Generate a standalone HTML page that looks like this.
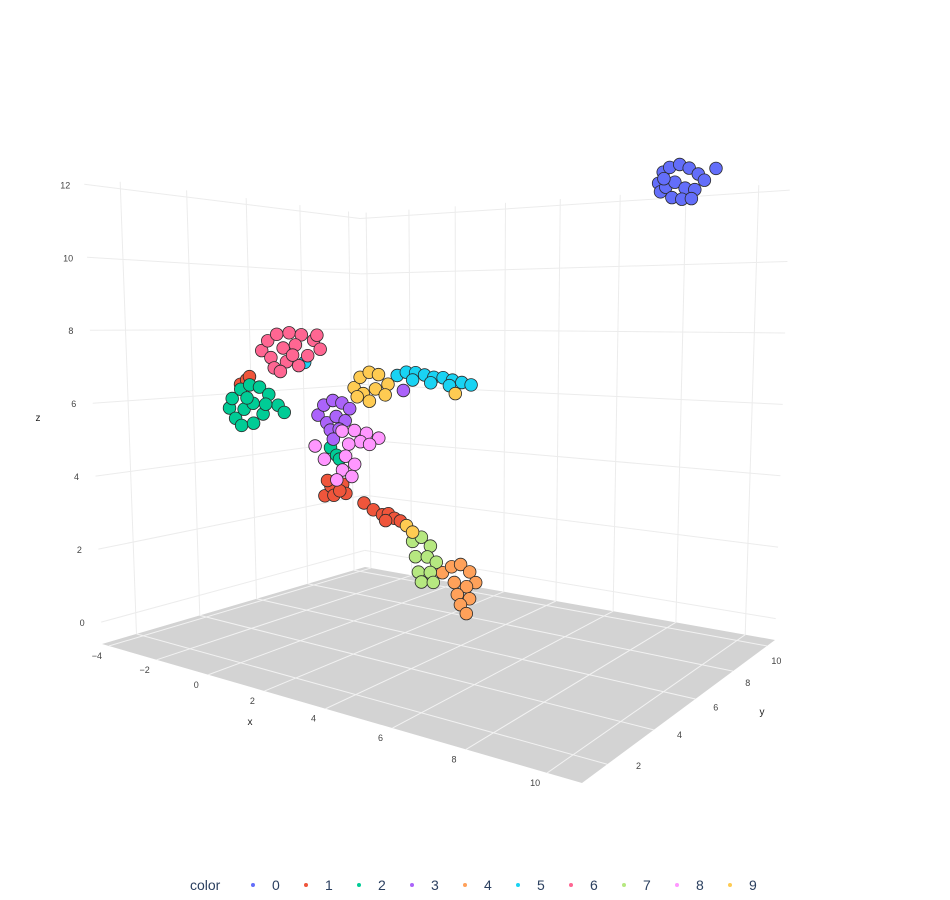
<!DOCTYPE html>
<html><head><meta charset="utf-8"><style>
body{margin:0;background:#fff;}
svg{display:block;font-family:"Liberation Sans",sans-serif;}
</style></head><body>
<svg id="chart" width="950" height="900" viewBox="0 0 950 900" xmlns="http://www.w3.org/2000/svg">
<g id="scene"></g>
<g id="legend"></g>
</svg>
<script>
const xTicks=[-4,-2,0,2,4,6,8,10];
const yTicks=[2,4,6,8,10];
const zTicks=[0,2,4,6,8,10,12];
const categories=["0","1","2","3","4","5","6","7","8","9"];
const colors=["#636efa","#EF553B","#00cc96","#ab63fa","#FFA15A","#19d3f3","#FF6692","#B6E880","#FF97FF","#FECB52"];
const pts0=[[10.1,4.9,11.6],[10.2,4.9,11.85],[10.35,4.9,11.95],[10.58,4.9,12.0],[10.8,4.9,11.9],[11.01,4.9,11.75],[11.15,4.9,11.6],[10.15,4.9,11.4],[10.27,4.9,11.5],[10.48,4.9,11.6],[10.72,4.9,11.45],[10.94,4.9,11.4],[10.42,4.9,11.25],[10.65,4.9,11.2],[10.87,4.9,11.2],[10.22,4.9,11.7],[11.4,4.9,11.85]];
const pts1=[[-3.36,4.9,6.35],[-3.09,4.9,6.5],[-2.96,4.9,6.6],[0.06,4.9,3.3],[0.3,4.9,3.6],[0.53,4.9,3.8],[0.75,4.9,3.7],[0.87,4.9,3.45],[0.41,4.9,3.35],[0.64,4.9,3.5],[0.17,4.9,3.75],[1.54,4.9,3.25],[1.88,4.9,3.1],[2.21,4.9,3.0],[2.42,4.9,3.05],[2.63,4.9,2.95],[2.84,4.9,2.9],[2.32,4.9,2.85]];
const pts2=[[-3.88,4.9,5.6],[-3.75,4.9,5.9],[-3.36,4.9,6.2],[-2.96,4.9,6.35],[-2.54,4.9,6.3],[-2.15,4.9,6.1],[-1.77,4.9,5.8],[-3.62,4.9,5.3],[-3.23,4.9,5.6],[-2.83,4.9,5.8],[-2.41,4.9,5.5],[-3.36,4.9,5.1],[-2.83,4.9,5.2],[-2.29,4.9,5.8],[-1.52,4.9,5.6],[-3.09,4.9,5.95],[0.3,4.9,4.7],[0.53,4.9,4.5],[0.64,4.9,4.4]];
const pts3=[[-0.17,4.9,5.6],[0.06,4.9,5.9],[0.41,4.9,6.05],[0.75,4.9,6.0],[1.04,4.9,5.85],[0.17,4.9,5.4],[0.53,4.9,5.6],[0.87,4.9,5.5],[0.3,4.9,5.2],[0.64,4.9,5.25],[0.41,4.9,4.95],[2.95,4.9,6.45]];
const pts4=[[4.26,4.9,1.7],[4.56,4.9,1.9],[4.85,4.9,2.0],[5.14,4.9,1.85],[5.33,4.9,1.6],[4.65,4.9,1.5],[5.04,4.9,1.45],[4.75,4.9,1.2],[5.14,4.9,1.15],[4.85,4.9,0.95],[5.04,4.9,0.75]];
const pts5=[[2.74,4.9,6.85],[3.05,4.9,6.95],[3.36,4.9,6.95],[3.66,4.9,6.9],[3.96,4.9,6.85],[4.26,4.9,6.85],[4.56,4.9,6.8],[4.85,4.9,6.75],[5.14,4.9,6.7],[3.26,4.9,6.75],[3.86,4.9,6.7],[4.46,4.9,6.65],[-0.66,4.9,7.1]];
const pts6=[[-2.41,4.9,7.4],[-2.15,4.9,7.7],[-1.77,4.9,7.9],[-1.265,4.9,7.95],[-0.78,4.9,7.9],[-0.3,4.9,7.75],[-0.05,4.9,7.5],[-2.03,4.9,7.2],[-1.52,4.9,7.5],[-1.02,4.9,7.6],[-0.54,4.9,7.3],[-1.9,4.9,6.9],[-1.39,4.9,7.1],[-0.9,4.9,7.0],[-1.65,4.9,6.8],[-1.14,4.9,7.3],[-0.17,4.9,7.9]];
const pts7=[[3.26,4.9,2.4],[3.56,4.9,2.55],[3.86,4.9,2.35],[3.36,4.9,2.0],[3.76,4.9,2.05],[4.06,4.9,1.95],[3.46,4.9,1.6],[3.86,4.9,1.65],[3.56,4.9,1.35],[3.96,4.9,1.4]];
const pts8=[[0.75,4.9,5.2],[1.21,4.9,5.25],[1.65,4.9,5.2],[2.09,4.9,5.1],[1.43,4.9,4.95],[0.99,4.9,4.85],[1.76,4.9,4.9],[0.87,4.9,4.5],[1.21,4.9,4.3],[0.75,4.9,4.1],[1.10,4.9,3.95],[0.53,4.9,3.8],[-0.3,4.9,4.7],[0.06,4.9,4.35]];
const pts9=[[1.21,4.9,6.45],[1.43,4.9,6.75],[1.76,4.9,6.9],[2.09,4.9,6.85],[2.42,4.9,6.6],[1.54,4.9,6.3],[1.98,4.9,6.45],[2.32,4.9,6.3],[1.76,4.9,6.1],[1.32,4.9,6.2],[3.05,4.9,2.8],[3.26,4.9,2.65],[4.65,4.9,6.45]];
const series=[pts0,pts1,pts2,pts3,pts4,pts5,pts6,pts7,pts8,pts9];

const NS="http://www.w3.org/2000/svg";
const X0=-4.3,X1=10.8,Y0=1,Y1=10.5,Z0=-0.6,Z1=12.2;
const C={b00:[102,644],b10:[582,783],b01:[365,567],b11:[775,640],t00:[84,177],t10:[600,130],t01:[360,213],t11:[790,183]};
function lerp(a,b,s){return [a[0]+(b[0]-a[0])*s,a[1]+(b[1]-a[1])*s];}
function P(x,y,z){
  let u=(x-X0)/(X1-X0),f=(y-Y0)/(Y1-Y0);const t=(z-Z0)/(Z1-Z0);
  u=u/(1.4-0.4*u);
  f=f/(0.78+0.22*f);
  const b=lerp(lerp(C.b00,C.b10,u),lerp(C.b01,C.b11,u),f);
  const tp=lerp(lerp(C.t00,C.t10,u),lerp(C.t01,C.t11,u),f);
  return lerp(b,tp,t);
}
const scene=document.getElementById('scene');
function mk(tag,attrs,parent){const e=document.createElementNS(NS,tag);for(const k in attrs)e.setAttribute(k,attrs[k]);(parent||scene).appendChild(e);return e;}
function poly(ps){return ps.map(p=>p[0].toFixed(1)+','+p[1].toFixed(1)).join(' ');}
function line(a,b,stroke,name){const l=mk('line',{x1:a[0],y1:a[1],x2:b[0],y2:b[1],stroke:stroke,'stroke-width':1});

}

const lw=mk('polygon',{points:poly([P(X0,Y0,Z0),P(X0,Y1,Z0),P(X0,Y1,Z1),P(X0,Y0,Z1)]),fill:'#fff'});


const bw=mk('polygon',{points:poly([P(X0,Y1,Z0),P(X1,Y1,Z0),P(X1,Y1,Z1),P(X0,Y1,Z1)]),fill:'#fff'});


zTicks.forEach(z=>{line(P(X0,Y0,z),P(X0,Y1,z),'#ececec','z-gridline');line(P(X0,Y1,z),P(X1,Y1,z),'#ececec','z-gridline');});
yTicks.forEach(y=>line(P(X0,y,Z0),P(X0,y,Z1),'#ececec','y-wall-gridline'));
xTicks.forEach(x=>line(P(x,Y1,Z0),P(x,Y1,Z1),'#ececec','x-wall-gridline'));
const fl=mk('polygon',{points:poly([P(X0,Y0,Z0),P(X1,Y0,Z0),P(X1,Y1,Z0),P(X0,Y1,Z0)]),fill:'#d3d3d3'});


xTicks.forEach(x=>line(P(x,Y0,Z0),P(x,Y1,Z0),'#f2f2f2','x-floor-gridline'));
yTicks.forEach(y=>line(P(X0,y,Z0),P(X1,y,Z0),'#f2f2f2','y-floor-gridline'));
function txt(s,p,name,extra){const t=mk('text',Object.assign({x:p[0],y:p[1],'font-size':9,fill:'#444','text-anchor':'middle'},extra||{}));t.textContent=s;

return t;}
zTicks.forEach(z=>{const p=P(X0,Y0,z);txt(String(z),[p[0]-19,p[1]+4],'z-tick-label');});
xTicks.forEach(x=>{const p=P(x,Y0,Z0);txt(x<0?'\u2212'+(-x):String(x),[p[0]-12,p[1]+13],'x-tick-label');});
yTicks.forEach(y=>{const p=P(X1,y,Z0);const s=(y-Y0)/(Y1-Y0);txt(String(y),[p[0]+34-26*s,p[1]+3+16*s],'y-tick-label');});
txt('x',[250,725],'x-axis-title',{'font-size':10,fill:'#222'});
txt('y',[762,715],'y-axis-title',{'font-size':10,fill:'#222'});
txt('z',[38,421],'z-axis-title',{'font-size':10,fill:'#222'});
series.forEach((pts,i)=>{
  const g=mk('g',{});
  
  
  pts.forEach(d=>{const p=P(d[0],d[1],d[2]);
    const c=mk('circle',{cx:p[0].toFixed(1),cy:p[1].toFixed(1),r:6.3,fill:colors[i],stroke:'#2a2a2a','stroke-width':0.8},g);
    
    
  });
});
const lg=document.getElementById('legend');
const lt=mk('text',{x:190,y:890,'font-size':14,fill:'#2a3f5f'},lg);lt.textContent='color';


categories.forEach((c,i)=>{
  const g=mk('g',{},lg);
  
  
  mk('circle',{cx:253+53*i,cy:885,r:2,fill:colors[i]},g);
  const t=mk('text',{x:272+53*i,y:890,'font-size':14,fill:'#2a3f5f'},g);t.textContent=c;
});
</script>
</body></html>
